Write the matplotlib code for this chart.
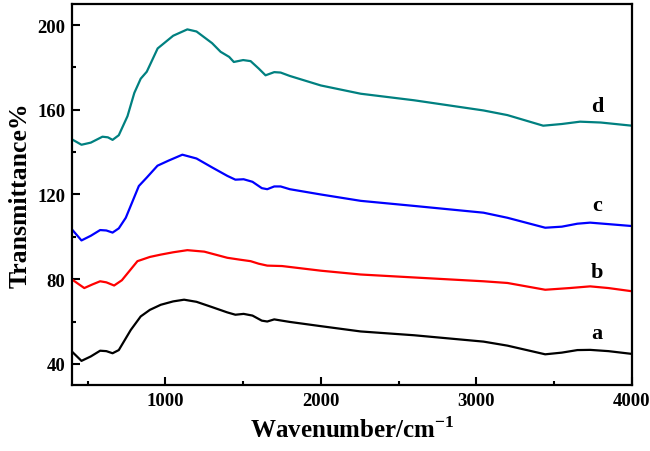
import matplotlib
matplotlib.use("Agg")
import matplotlib.pyplot as plt
from matplotlib.ticker import MultipleLocator

plt.rcParams["font.family"] = "Liberation Serif"
plt.rcParams["font.weight"] = "bold"
plt.rcParams["mathtext.fontset"] = "custom"
plt.rcParams["mathtext.rm"] = "Liberation Serif:bold"
plt.rcParams["mathtext.bf"] = "Liberation Serif:bold"

# FTIR spectra (wavenumber, transmittance)
wn_a = [400, 460, 520, 580, 620, 660, 700, 777, 841, 900, 970, 1050, 1120, 1200,
        1300, 1398, 1450, 1503, 1560, 1620, 1655, 1700, 1741, 1800, 2000, 2256,
        2600, 3046, 3200, 3443, 3550, 3650, 3732, 3850, 4000]
tr_a = [45.7, 41.4, 43.5, 46.2, 46.0, 45.0, 46.5, 56.0, 62.4, 65.5, 67.9, 69.5,
        70.3, 69.3, 66.8, 64.3, 63.2, 63.6, 62.8, 60.4, 60.0, 61.0, 60.5, 59.8,
        57.8, 55.3, 53.5, 50.5, 48.6, 44.5, 45.3, 46.5, 46.6, 46.0, 44.7]

wn_b = [400, 478, 530, 580, 620, 670, 720, 820, 900, 970, 1050, 1141, 1250,
        1398, 1480, 1548, 1600, 1655, 1750, 2000, 2256, 2600, 3046, 3200, 3443,
        3600, 3732, 3850, 4000]
tr_b = [79.8, 75.8, 77.5, 79.0, 78.5, 77.0, 79.5, 88.5, 90.5, 91.6, 92.7, 93.7,
        93.0, 90.1, 89.2, 88.5, 87.3, 86.4, 86.2, 84.0, 82.2, 80.8, 79.0, 78.2,
        75.0, 75.8, 76.6, 75.8, 74.3]

wn_c = [400, 460, 520, 580, 620, 660, 700, 745, 829, 880, 949, 1020, 1109,
        1200, 1300, 1398, 1450, 1503, 1560, 1620, 1655, 1700, 1741, 1800, 2000,
        2256, 2600, 3046, 3200, 3443, 3550, 3650, 3732, 3850, 4000]
tr_c = [103.4, 98.3, 100.5, 103.2, 103.0, 102.0, 104.0, 109.0, 124.0, 128.0,
        133.6, 136.0, 138.8, 137.0, 132.8, 128.8, 127.0, 127.2, 126.0, 123.0,
        122.5, 123.8, 123.8, 122.5, 120.0, 117.0, 114.6, 111.4, 109.0, 104.3,
        104.8, 106.2, 106.7, 106.0, 105.1]

wn_d = [400, 460, 520, 595, 630, 660, 700, 756, 800, 841, 880, 950, 1050, 1141,
        1200, 1300, 1355, 1410, 1440, 1500, 1548, 1600, 1644, 1700, 1741, 1800,
        2000, 2256, 2600, 3046, 3200, 3430, 3550, 3667, 3800, 4000]
tr_d = [146.0, 143.5, 144.5, 147.3, 147.0, 145.8, 148.0, 157.0, 168.0, 174.7,
        178.0, 189.0, 195.0, 198.0, 197.0, 191.5, 187.4, 185.0, 182.6, 183.5,
        183.0, 179.5, 176.3, 177.8, 177.6, 176.0, 171.5, 167.6, 164.5, 159.7,
        157.5, 152.5, 153.3, 154.4, 154.0, 152.5]

series = [
    (wn_a, tr_a, "black", "a", 54.5),
    (wn_b, tr_b, "#ff0000", "b", 83.6),
    (wn_c, tr_c, "#0000ff", "c", 115.0),
    (wn_d, tr_d, "#008080", "d", 162.0),
]

fig = plt.figure(figsize=(6.5, 4.52), dpi=100)
ax = fig.add_axes([0.111, 0.146, 0.861, 0.843])

for wn, tr, color, name, ylab in series:
    ax.plot(wn, tr, color=color, lw=1.6)
    ax.text(3775, ylab, name, ha="center", va="center", fontsize=16,
            fontweight="bold")

ax.set_xlim(400, 4000)
ax.set_ylim(30, 210)
ax.xaxis.set_major_locator(MultipleLocator(1000))
ax.xaxis.set_minor_locator(MultipleLocator(500))
ax.yaxis.set_major_locator(MultipleLocator(40))
ax.yaxis.set_minor_locator(MultipleLocator(20))
ax.tick_params(which="both", direction="in", width=1.5, labelsize=13.5)
ax.tick_params(which="major", length=6, pad=5)
ax.tick_params(which="minor", length=3)
for lab in ax.get_xticklabels() + ax.get_yticklabels():
    lab.set_fontweight("bold")
for sp in ax.spines.values():
    sp.set_linewidth(1.6)

ax.set_xlabel("Wavenumber/cm$^{-1}$", fontsize=18, fontweight="bold",
              labelpad=5)
ax.set_ylabel("Transmittance%", fontsize=18.5, fontweight="bold", labelpad=4)

fig.savefig("out.png", dpi=100)
